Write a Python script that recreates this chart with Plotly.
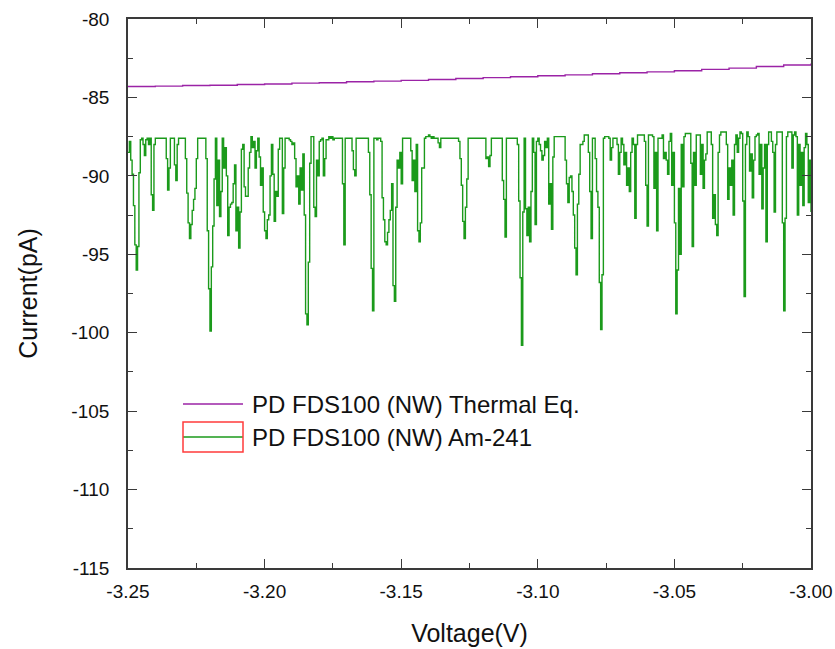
import plotly.graph_objects as go

# ---------------- data ----------------
V_START = -3.25
V_STEP_AM = 0.0005   # voltage step of the Am-241 sweep
V_STEP_TH = 0.01     # voltage step of the thermal-equilibrium sweep

# Am-241 current (pA), rows of 0.01 V
am241_current = [
    -88.5, -87.8, -89.0, -89.9, -91.9, -94.4, -96.0, -94.5, -89.8, -87.7, -87.6, -88.0, -88.7, -87.7, -87.6, -88.0, -87.6, -91.2, -92.2, -88.0,
    -87.6, -87.6, -87.6, -87.6, -87.6, -87.6, -87.6, -87.6, -88.9, -90.9, -89.5, -87.6, -87.6, -87.6, -89.3, -90.3, -88.0, -87.6, -87.6, -87.6,
    -87.6, -87.6, -88.9, -91.1, -93.0, -94.0, -93.1, -92.2, -91.5, -90.8, -88.9, -87.6, -87.6, -87.6, -87.6, -87.6, -87.6, -88.9, -93.5, -97.2,
    -99.9, -95.8, -93.2, -90.2, -87.6, -91.9, -89.0, -92.6, -91.0, -87.6, -89.5, -88.2, -90.0, -93.8, -92.0, -91.8, -91.7, -90.5, -89.3, -93.5,
    -92.0, -94.6, -92.3, -88.3, -88.0, -90.7, -91.3, -91.3, -89.5, -88.5, -87.5, -88.2, -87.8, -89.5, -88.4, -87.6, -88.8, -90.6, -89.5, -92.3,
    -93.5, -94.0, -92.8, -92.5, -90.0, -88.0, -89.9, -92.9, -91.0, -91.3, -88.3, -87.6, -87.6, -92.4, -89.5, -87.6, -87.6, -87.6, -87.7, -87.8,
    -88.0, -87.9, -88.9, -90.7, -90.0, -91.8, -89.5, -90.9, -88.6, -92.5, -98.8, -99.5, -95.5, -89.2, -87.5, -87.5, -92.0, -92.6, -89.0, -90.0,
    -87.8, -87.7, -87.6, -90.0, -88.9, -87.7, -87.7, -87.5, -87.6, -87.5, -87.7, -87.6, -87.6, -87.6, -87.6, -87.6, -87.6, -90.5, -94.4, -87.6,
    -87.6, -87.6, -87.6, -87.6, -88.4, -89.6, -90.0, -87.6, -87.6, -87.6, -87.6, -87.6, -87.6, -87.6, -87.6, -87.6, -88.5, -91.2, -95.9, -98.6,
    -87.6, -87.6, -87.7, -87.6, -87.6, -87.8, -91.4, -92.8, -94.2, -94.4, -93.6, -92.8, -92.2, -90.5, -97.0, -98.0, -92.0, -89.0, -89.5, -88.5,
    -90.5, -87.6, -87.6, -87.6, -87.6, -87.6, -87.6, -88.4, -90.3, -89.0, -91.0, -88.0, -93.5, -94.2, -93.0, -89.5, -89.5, -87.6, -87.5, -87.5,
    -87.4, -87.5, -87.6, -87.5, -87.6, -87.6, -87.6, -87.9, -88.2, -87.6, -87.6, -87.6, -87.6, -87.6, -87.6, -87.6, -87.6, -87.6, -87.6, -87.6,
    -87.6, -87.6, -87.8, -88.9, -90.6, -92.9, -94.0, -92.0, -90.2, -87.6, -87.6, -87.6, -87.6, -87.6, -87.6, -87.6, -87.6, -87.6, -87.6, -87.6,
    -87.6, -87.6, -88.9, -88.8, -89.4, -88.7, -87.6, -87.6, -87.6, -87.6, -87.6, -87.6, -87.6, -87.6, -90.3, -91.5, -93.9, -87.6, -87.6, -87.6,
    -87.6, -87.6, -87.6, -87.6, -87.6, -88.0, -91.6, -96.5, -100.8, -92.3, -87.6, -92.1, -93.8, -92.0, -94.2, -91.0, -87.6, -88.5, -93.1, -87.8,
    -87.6, -88.0, -88.4, -89.0, -88.7, -87.8, -88.2, -87.6, -91.8, -90.5, -93.4, -88.8, -87.5, -87.5, -87.5, -87.5, -87.5, -87.5, -87.5, -87.5,
    -89.0, -90.5, -91.7, -90.1, -90.0, -91.0, -92.5, -94.6, -96.3, -91.8, -89.9, -88.0, -88.0, -87.8, -87.4, -87.4, -87.4, -88.5, -91.0, -94.0,
    -87.6, -87.6, -88.9, -91.0, -92.0, -96.8, -99.8, -96.3, -87.6, -87.5, -87.5, -87.5, -87.6, -89.0, -88.2, -87.6, -87.6, -87.6, -88.0, -89.9,
    -88.5, -87.6, -88.0, -89.3, -88.5, -90.6, -89.5, -91.0, -88.5, -87.6, -88.0, -92.7, -88.0, -87.4, -87.4, -87.4, -87.4, -87.4, -87.8, -90.6,
    -93.2, -87.4, -87.4, -87.4, -87.5, -90.8, -88.5, -93.5, -87.6, -87.6, -87.6, -87.4, -88.9, -88.5, -89.0, -89.9, -87.8, -87.3, -90.6, -88.5,
    -93.0, -98.8, -96.0, -90.8, -95.0, -88.0, -90.7, -87.5, -87.3, -87.3, -87.3, -87.3, -89.2, -94.5, -88.5, -90.6, -87.4, -87.4, -87.4, -89.9,
    -88.0, -90.8, -89.0, -88.6, -87.2, -87.2, -87.2, -88.0, -92.7, -91.2, -93.1, -93.8, -88.5, -87.4, -87.2, -87.2, -87.2, -87.2, -88.0, -91.5,
    -89.5, -90.6, -89.0, -92.5, -88.0, -87.4, -88.5, -87.6, -87.2, -87.3, -91.6, -97.7, -88.0, -87.2, -87.5, -89.7, -88.6, -91.4, -89.0, -87.5,
    -87.4, -87.3, -89.9, -88.0, -92.1, -89.5, -88.0, -94.2, -88.0, -87.2, -87.2, -87.8, -88.5, -92.3, -88.0, -87.2, -87.2, -87.2, -87.2, -93.0,
    -98.6, -92.7, -87.5, -87.2, -87.2, -87.2, -89.5, -87.4, -87.2, -87.5, -92.5, -88.0, -90.6, -88.5, -91.9, -88.2, -87.3, -88.0, -91.7, -89.0,
    -92.3,
]

# Thermal-equilibrium current (pA), one value per 0.01 V
thermal_current = [
    -84.30, -84.28, -84.24, -84.22, -84.18, -84.14, -84.09, -84.06, -84.00, -83.96,
    -83.91, -83.86, -83.79, -83.74, -83.68, -83.62, -83.56, -83.49, -83.43, -83.37,
    -83.30, -83.21, -83.13, -83.03, -82.93, -82.83,
]

series_names = ["PD FDS100 (NW) Thermal Eq.", "PD FDS100 (NW) Am-241"]
x_tick_vals = [-3.25, -3.20, -3.15, -3.10, -3.05, -3.00]
x_tick_text = ["-3.25", "-3.20", "-3.15", "-3.10", "-3.05", "-3.00"]
y_tick_vals = [-115, -110, -105, -100, -95, -90, -85, -80]
y_tick_text = ["-115", "-110", "-105", "-100", "-95", "-90", "-85", "-80"]

am_voltage = [round(V_START + i * V_STEP_AM, 4) for i in range(len(am241_current))]
th_voltage = [round(V_START + i * V_STEP_TH, 4) for i in range(len(thermal_current))]

# ---------------- figure ----------------
PURPLE = "#9b23a6"
GREEN = "#1b9a1b"
AXIS = "#3a3a3a"
FONT = "Liberation Sans, Arial, sans-serif"

fig = go.Figure()
fig.add_trace(go.Scatter(x=th_voltage, y=thermal_current, mode="lines", name=series_names[0],
                         line=dict(color=PURPLE, width=1.4, shape="hv"), showlegend=False))
fig.add_trace(go.Scatter(x=am_voltage, y=am241_current, mode="lines", name=series_names[1],
                         line=dict(color=GREEN, width=1.4, shape="hv"), showlegend=False))

# legend drawn manually (long line samples as in the reference)
L0, L1 = (183 - 128) / 683, (243 - 128) / 683
TX = (250 - 128) / 683
ys = [(568 - 404) / 549, (568 - 437) / 549]
colors = [PURPLE, GREEN]
for name, yy, c in zip(series_names, ys, colors):
    fig.add_shape(type="line", xref="paper", yref="paper", x0=L0, x1=L1, y0=yy, y1=yy,
                  line=dict(color=c, width=1.4))
    fig.add_annotation(xref="paper", yref="paper", x=TX, y=yy, text=name, showarrow=False,
                       xanchor="left", yanchor="middle", font=dict(family=FONT, size=24, color="#111"))
fig.add_shape(type="rect", xref="paper", yref="paper", x0=L0, x1=L1,
              y0=(568 - 452) / 549, y1=(568 - 422) / 549,
              line=dict(color="#ff3b3b", width=1.5), fillcolor="rgba(0,0,0,0)")

axis_common = dict(
    showline=True, linecolor=AXIS, linewidth=1.6, mirror="allticks",
    ticks="inside", ticklen=9, tickwidth=1.4, tickcolor=AXIS,
    showgrid=False, zeroline=False, automargin=False,
    tickfont=dict(family=FONT, size=19, color="#111"),
    ticklabeloverflow="allow",
)

fig.update_xaxes(
    **axis_common,
    range=[-3.25, -3.00], tickvals=x_tick_vals, ticktext=x_tick_text,
    minor=dict(ticks="inside", ticklen=5, tickwidth=1.2, tickcolor=AXIS, dtick=0.025, tick0=-3.25, showgrid=False),
    title=dict(text="Voltage(V)", font=dict(family=FONT, size=25, color="#111"), standoff=24),
    ticklabelstandoff=5,
)
fig.update_yaxes(
    **axis_common,
    range=[-115, -80], tickvals=y_tick_vals, ticktext=y_tick_text,
    minor=dict(ticks="inside", ticklen=5, tickwidth=1.2, tickcolor=AXIS, dtick=2.5, tick0=-80, showgrid=False),
    title=dict(text="Current(pA)", font=dict(family=FONT, size=25, color="#111"), standoff=27),
    ticklabelstandoff=13,
)

fig.update_layout(
    width=835, height=649,
    margin=dict(l=128, r=24, t=19, b=81),
    paper_bgcolor="white", plot_bgcolor="white",
    showlegend=False,
)

fig.write_html("out.html")
